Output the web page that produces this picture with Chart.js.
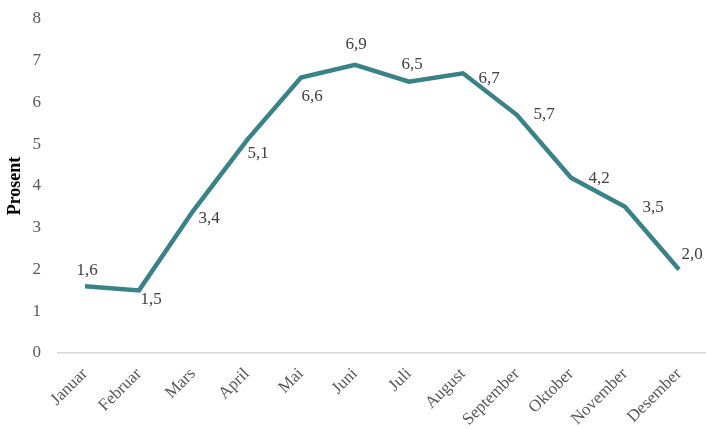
<!DOCTYPE html>
<html>
<head>
<meta charset="utf-8">
<script src="https://cdn.jsdelivr.net/npm/chart.js@4"></script>
<style>
  html, body { margin: 0; padding: 0; background: #fff; }
  #wrap { width: 706px; height: 429px; }
</style>
</head>
<body>
<div id="wrap"><canvas id="myChart" width="706" height="429"></canvas></div>
<script>
const months = ["Januar", "Februar", "Mars", "April", "Mai", "Juni", "Juli", "August", "September", "Oktober", "November", "Desember"]
const prosent = [1.6, 1.5, 3.4, 5.1, 6.6, 6.9, 6.5, 6.7, 5.7, 4.2, 3.5, 2.0]
const yTicks = [0, 1, 2, 3, 4, 5, 6, 7, 8]

// where each value label sits relative to its point (px)
const labelOffsets = [
  [2, -16], [12, 9], [16, 7], [11, 13], [11, 19], [1, -20],
  [3, -17], [26, 5], [27, 0], [28, 1], [28, 1], [13, -15],
]

const serif = "'Liberation Serif', 'DejaVu Serif', serif"
const ctx = document.getElementById("myChart").getContext("2d")
const myChart = new Chart(ctx, {
  type: "line",
  data: {
    labels: months,
    datasets: [
      {
        label: "Prosent",
        data: prosent,
        borderColor: "#3b8286",
        borderWidth: 4.5,
        pointRadius: 0,
        tension: 0,
        fill: false,
      },
    ],
  },
  options: {
    responsive: false,
    animation: false,
    layout: { padding: { left: 0, right: 0, top: 19, bottom: 0 } },
    plugins: {
      legend: { display: false },
      tooltip: { enabled: false },
    },
    scales: {
      x: {
        offset: true,
        grid: { display: false, drawTicks: false },
        border: { display: true, color: "#d9d9d9", width: 1.5 },
        ticks: {
          minRotation: 45,
          maxRotation: 45,
          autoSkip: false,
          padding: 11,
          color: "#595959",
          font: { family: serif, size: 17 },
        },
        afterFit: function (scale) {
          scale.height = 76
        },
      },
      y: {
        min: 0,
        max: 8,
        afterBuildTicks: function (scale) {
          scale.ticks = yTicks.map((v) => ({ value: v }))
        },
        grid: { display: false, drawTicks: false },
        border: { display: false },
        ticks: {
          padding: 17,
          color: "#595959",
          font: { family: serif, size: 17 },
        },
        title: {
          display: true,
          text: "Prosent",
          color: "#000",
          padding: { top: 5, bottom: 0 },
          font: { family: serif, size: 18, weight: "bold" },
        },
        afterFit: function (scale) {
          scale.width = 58
          scale.paddingTop = 0
          scale.paddingBottom = 0
        },
      },
    },
  },
  plugins: [
    {
      id: "valueLabels",
      afterDatasetsDraw: function (chart) {
        const ctx = chart.ctx
        const meta = chart.getDatasetMeta(0)
        ctx.save()
        ctx.font = "17px " + serif
        ctx.fillStyle = "#404040"
        ctx.textAlign = "center"
        ctx.textBaseline = "middle"
        meta.data.forEach((pt, i) => {
          const txt = prosent[i].toFixed(1).replace(".", ",")
          const off = labelOffsets[i]
          ctx.fillText(txt, pt.x + off[0], pt.y + off[1])
        })
        ctx.restore()
      },
    },
  ],
})
</script>
</body>
</html>
